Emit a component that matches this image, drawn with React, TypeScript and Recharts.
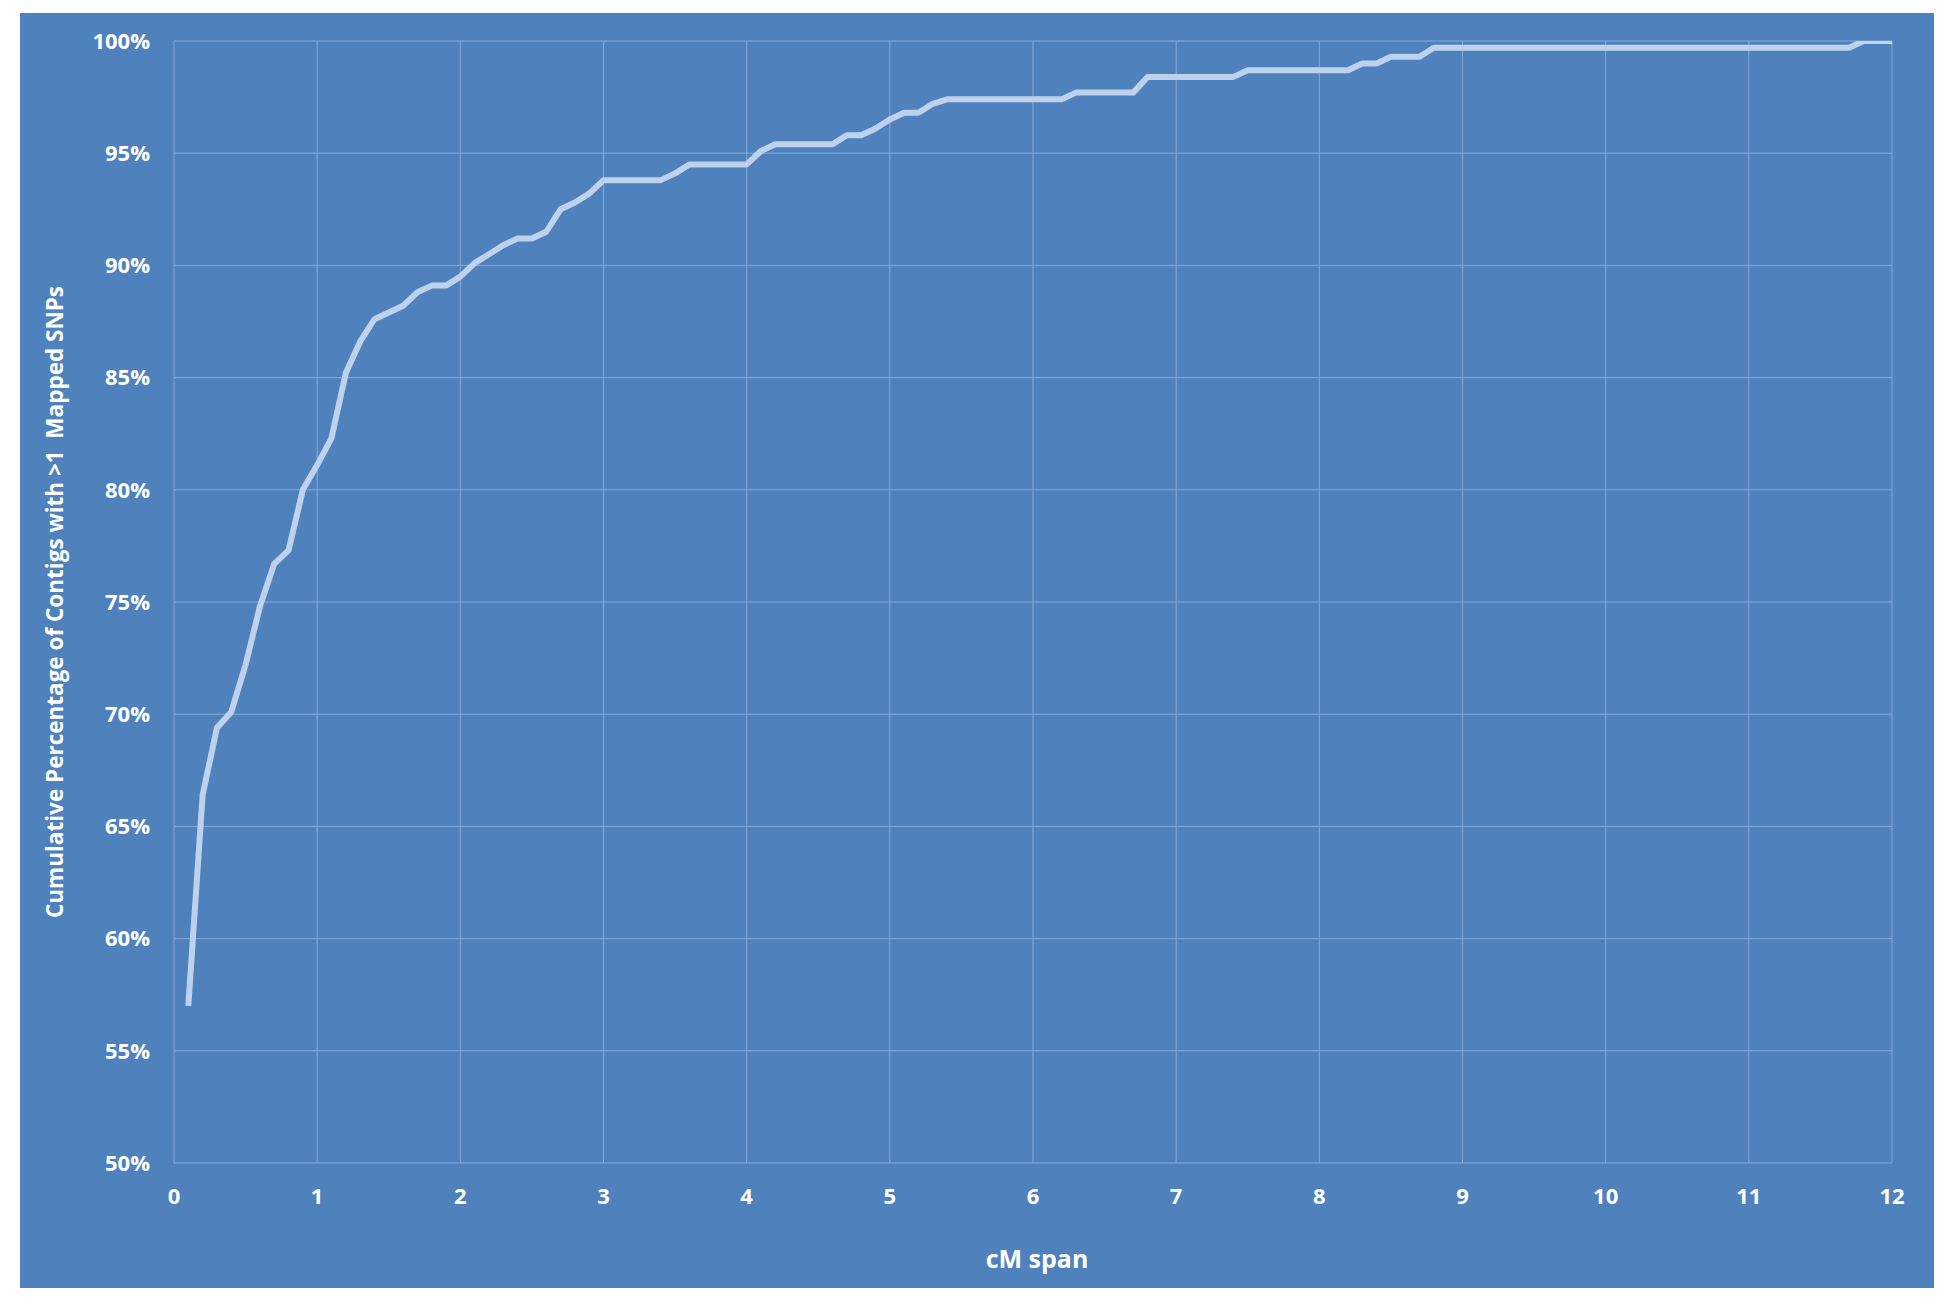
import {
  CartesianGrid,
  Label,
  Line,
  LineChart,
  XAxis,
  YAxis,
} from "recharts";

// cM span (x) and cumulative % of contigs (y) at each bend
const cmSpan = [
  0.1, 0.2, 0.3, 0.4, 0.5, 0.6, 0.7, 0.8, 0.9, 1.0,
  1.1, 1.2, 1.3, 1.4, 1.5, 1.6, 1.7, 1.8, 1.9, 2.0,
  2.1, 2.2, 2.3, 2.4, 2.5, 2.6, 2.7, 2.8, 2.9, 3.0,
  3.4, 3.5, 3.6, 4.0, 4.1, 4.2, 4.6, 4.7, 4.8, 4.9,
  5.0, 5.1, 5.2, 5.3, 5.4, 6.2, 6.3, 6.7, 6.8, 7.4,
  7.5, 8.2, 8.3, 8.4, 8.5, 8.7, 8.8, 11.7, 11.8, 12.0,
];

const cumulativePct = [
  57.0, 66.4, 69.4, 70.1, 72.2, 74.8, 76.7, 77.3, 80.0, 81.1,
  82.3, 85.2, 86.6, 87.6, 87.9, 88.2, 88.8, 89.1, 89.1, 89.5,
  90.1, 90.5, 90.9, 91.2, 91.2, 91.5, 92.5, 92.8, 93.2, 93.8,
  93.8, 94.1, 94.5, 94.5, 95.1, 95.4, 95.4, 95.8, 95.8, 96.1,
  96.5, 96.8, 96.8, 97.2, 97.4, 97.4, 97.7, 97.7, 98.4, 98.4,
  98.7, 98.7, 99.0, 99.0, 99.3, 99.3, 99.7, 99.7, 100, 100,
];

const xTicks = [0, 1, 2, 3, 4, 5, 6, 7, 8, 9, 10, 11, 12];
const yTicks = [50, 55, 60, 65, 70, 75, 80, 85, 90, 95, 100];

const data = cmSpan.map((x, i) => ({ x, pct: cumulativePct[i] }));

const BG = "#4F81BD";
const GRID = "#86AADB";
const LINE = "#BED2EE";
const FONT = "'Open Sans', 'Noto Sans', sans-serif";

const tickStyle = { fill: "#FFFFFF", fontSize: 22, fontWeight: 700, fontFamily: FONT };

// the original title has two spaces before "Mapped"; a no-break space keeps them
const yTitle = "Cumulative Percentage of Contigs with >1\u00A0 Mapped SNPs";

export default function App() {
  return (
    <div
      style={{
        position: "absolute",
        left: 0,
        top: 0,
        width: 1950,
        height: 1304,
        background: "#FFFFFF",
      }}
    >
      <div
        style={{
          position: "absolute",
          left: 20,
          top: 13,
          width: 1914,
          height: 1275,
          background: BG,
        }}
      >
        <LineChart
          width={1914}
          height={1275}
          data={data}
          margin={{ top: 28, right: 42, left: 0, bottom: 0 }}
        >
          <CartesianGrid stroke={GRID} strokeWidth={1} />
          <XAxis
            dataKey="x"
            type="number"
            domain={[0, 12]}
            ticks={xTicks}
            interval={0}
            axisLine={false}
            tickLine={false}
            tickSize={8}
            tickMargin={17}
            height={125}
            tick={tickStyle}
          >
            <Label
              value="cM span"
              position="insideBottom"
              offset={20}
              dx={4}
              style={{ fill: "#FFFFFF", fontSize: 25, fontWeight: 700, fontFamily: FONT }}
            />
          </XAxis>
          <YAxis
            type="number"
            domain={[50, 100]}
            ticks={yTicks}
            interval={0}
            allowDataOverflow
            axisLine={false}
            tickLine={false}
            tickSize={8}
            tickMargin={16}
            width={154}
            tick={tickStyle}
            tickFormatter={(v) => `${v}%`}
          >
            <Label
              value={yTitle}
              angle={-90}
              position="insideLeft"
              offset={35}
              textAnchor="middle"
              style={{
                fill: "#FFFFFF",
                fontSize: 22.5,
                fontWeight: 700,
                fontFamily: FONT,
              }}
            />
          </YAxis>
          <Line
            type="linear"
            dataKey="pct"
            stroke={LINE}
            strokeWidth={6}
            strokeLinejoin="round"
            dot={false}
            activeDot={false}
            isAnimationActive={false}
          />
        </LineChart>
      </div>
    </div>
  );
}
